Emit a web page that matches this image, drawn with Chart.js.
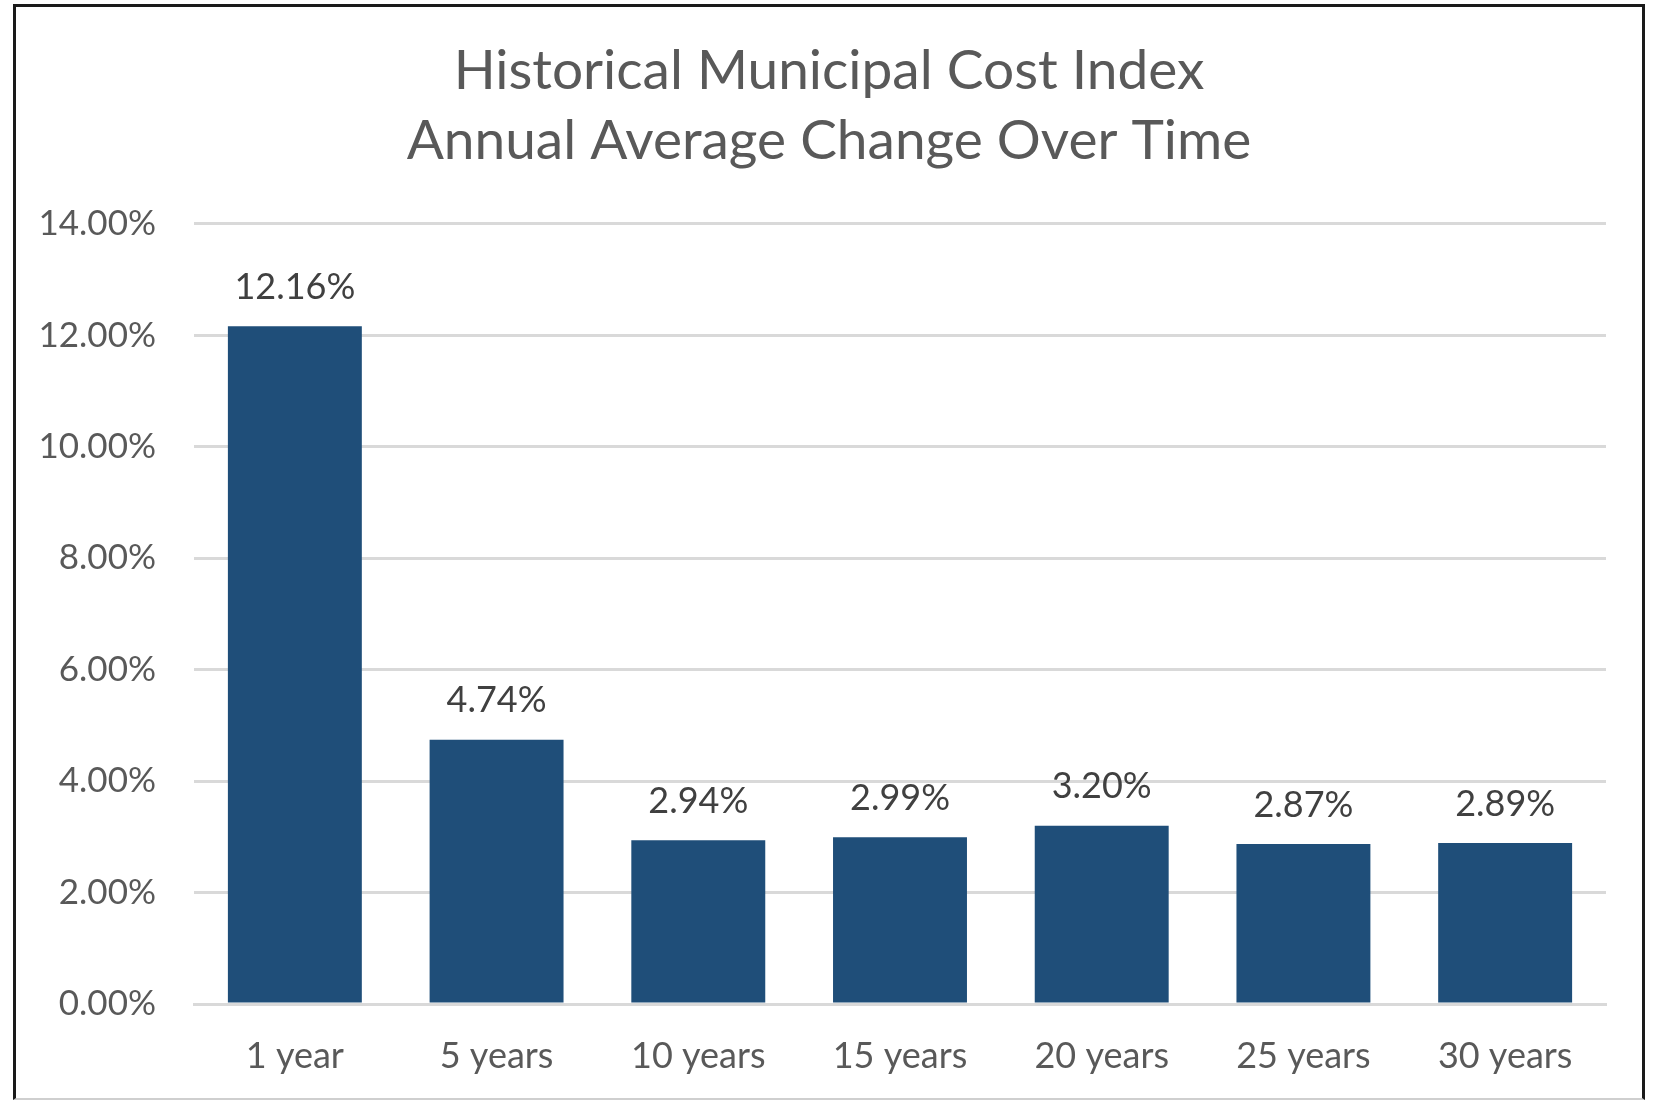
<!DOCTYPE html>
<html>
<head>
<meta charset="utf-8">
<script src="https://cdn.jsdelivr.net/npm/chart.js@4.4.1/dist/chart.umd.min.js"></script>
<style>
  html, body { margin: 0; padding: 0; background: #fff; }
  #frame {
    position: absolute; left: 13px; top: 4px;
    width: 1626px; height: 1091px;
    border-left: 3px solid #1a1a1a; border-top: 3px solid #1a1a1a;
    border-right: 3px solid #1a1a1a; border-bottom: 2px solid #cfcfcf;
  }
  canvas { display: block; }
</style>
</head>
<body>
<div id="frame"><canvas id="myChart" width="1626" height="1091"></canvas></div>
<script>
const periods = ["1 year", "5 years", "10 years", "15 years", "20 years", "25 years", "30 years"];
const avgChange = [12.16, 4.74, 2.94, 2.99, 3.20, 2.87, 2.89];
const yTicks = [0, 2, 4, 6, 8, 10, 12, 14];
const titleLines = ["Historical Municipal Cost Index", "Annual Average Change Over Time"];

const FONT = "Lato, 'Open Sans', sans-serif";

// draw the % value above each bar
const barLabels = {
    id: 'barLabels',
    afterDatasetsDraw(chart) {
        const ctx = chart.ctx;
        const meta = chart.getDatasetMeta(0);
        ctx.save();
        ctx.font = "36px " + FONT;
        ctx.fillStyle = "#404040";
        ctx.textAlign = "center";
        ctx.textBaseline = "middle";
        meta.data.forEach((bar, i) => {
            ctx.fillText(avgChange[i].toFixed(2) + "%", bar.x, bar.y - 39);
        });
        ctx.restore();
    }
};

new Chart("myChart", {
    type: "bar",
    data: {
        labels: periods,
        datasets: [{
            data: avgChange,
            backgroundColor: "#1F4E79",
            borderWidth: 0,
            categoryPercentage: 1.0,
            barPercentage: 0.664
        }]
    },
    options: {
        responsive: false,
        animation: false,
        layout: { padding: 0 },
        plugins: {
            legend: { display: false },
            tooltip: { enabled: false },
            title: {
                display: true,
                text: titleLines,
                color: "#595959",
                font: { family: FONT, size: 55, weight: "normal", lineHeight: 1.28 },
                padding: { top: 29, bottom: 47 }
            }
        },
        scales: {
            x: {
                grid: { display: false, drawTicks: false },
                border: { display: true, color: "#D9D9D9", width: 3 },
                ticks: {
                    color: "#595959",
                    font: { family: FONT, size: 36 },
                    padding: 31,
                    maxRotation: 0
                },
                afterFit(scale) { scale.height = 94; }
            },
            y: {
                min: 0,
                max: 14,
                afterBuildTicks(scale) { scale.ticks = yTicks.map(v => ({value: v})); },
                grid: { color: "#D9D9D9", lineWidth: 3, drawTicks: false },
                border: { display: false },
                ticks: {
                    color: "#595959",
                    font: { family: FONT, size: 35 },
                    padding: 38,
                    callback: (v) => v.toFixed(2) + "%"
                },
                afterFit(scale) { scale.width = 178; }
            },
            // empty right-side spacer so the title stays centred on the whole frame
            spacer: {
                type: "linear",
                position: "right",
                grid: { display: false, drawTicks: false },
                border: { display: false },
                ticks: { display: false },
                afterFit(scale) { scale.width = 36; }
            }
        }
    },
    plugins: [barLabels]
});
</script>
</body>
</html>
